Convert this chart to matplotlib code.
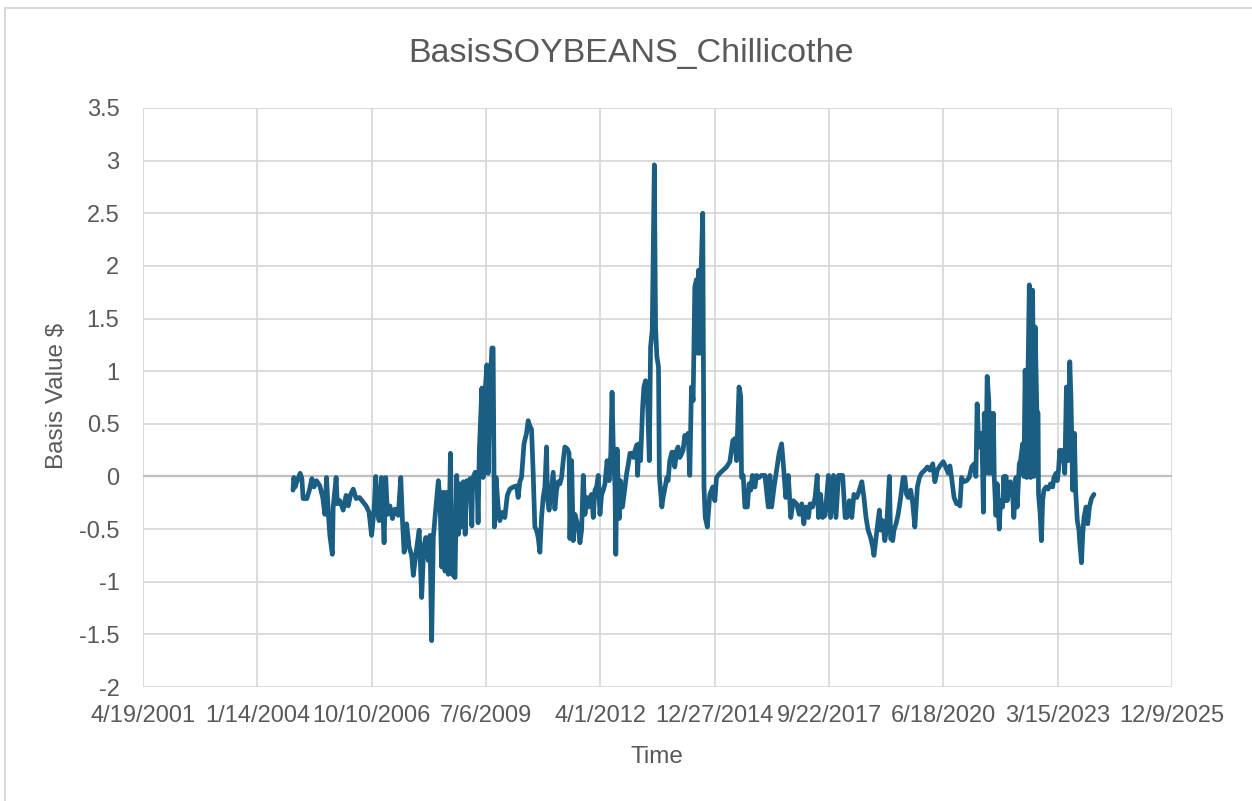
import matplotlib
matplotlib.use("Agg")

import pandas as pd

import matplotlib.pyplot as plt
from matplotlib.lines import Line2D
from matplotlib.ticker import MultipleLocator, FuncFormatter


TITLE = "BasisSOYBEANS_Chillicothe"
X_LABEL = "Time"
Y_LABEL = "Basis Value $"

TEXT_COLOR = "#595959"
GRID_COLOR = "#D9D9D9"
LINE_COLOR = "#1A5E83"

FONT = "Liberation Sans"

# observation dates as decimal years, basis in $/bu
years_2004_2009 = [
    2004.89, 2004.91, 2004.94, 2004.99, 2005.06, 2005.10, 2005.13, 2005.22, 2005.28, 2005.34,
    2005.39, 2005.45, 2005.53, 2005.60, 2005.65, 2005.69, 2005.74, 2005.77, 2005.83, 2005.85,
    2005.92, 2005.95, 2006.01, 2006.09, 2006.16, 2006.21, 2006.27, 2006.33, 2006.40, 2006.48,
    2006.56, 2006.64, 2006.71, 2006.77, 2006.83, 2006.87, 2006.92, 2006.95, 2007.01, 2007.07,
    2007.11, 2007.15, 2007.21, 2007.27, 2007.33, 2007.41, 2007.47, 2007.51, 2007.55, 2007.61,
    2007.67, 2007.73, 2007.77, 2007.83, 2007.91, 2007.97, 2008.02, 2008.07, 2008.13, 2008.17,
    2008.21, 2008.25, 2008.29, 2008.37, 2008.41, 2008.45, 2008.49, 2008.53, 2008.57, 2008.61,
    2008.66, 2008.71, 2008.77, 2008.81, 2008.85, 2008.89, 2008.93, 2008.97, 2009.01, 2009.05,
    2009.09, 2009.13, 2009.17, 2009.19, 2009.25, 2009.29, 2009.32, 2009.35, 2009.41, 2009.44,
    2009.49, 2009.53, 2009.56, 2009.60, 2009.65, 2009.68, 2009.71, 2009.75, 2009.80, 2009.84,
    2009.91, 2009.96,
]
basis_2004_2009 = [
    -0.13, -0.01, -0.10, -0.04, 0.03, -0.02, -0.21, -0.21, -0.13, -0.02,
    -0.10, -0.04, -0.09, -0.20, -0.36, -0.01, -0.39, -0.56, -0.74, -0.29,
    -0.01, -0.26, -0.23, -0.32, -0.18, -0.28, -0.17, -0.12, -0.21, -0.20,
    -0.24, -0.28, -0.34, -0.56, -0.32, 0.00, -0.36, -0.42, -0.01, -0.63,
    -0.01, -0.36, -0.28, -0.40, -0.31, -0.37, -0.01, -0.42, -0.72, -0.45,
    -0.67, -0.75, -0.94, -0.74, -0.51, -1.15, -0.67, -0.58, -0.80, -0.56,
    -1.56, -0.58, -0.39, -0.04, -0.23, -0.86, -0.15, -0.90, -0.15, -0.93,
    0.22, -0.93, -0.96, 0.01, -0.55, -0.07, -0.48, -0.05, -0.55, -0.04,
    -0.10, -0.02, -0.47, -0.02, 0.04, 0.03, -0.44, 0.25, 0.84, -0.01,
    0.82, 1.06, 0.03, 0.76, 1.22, 1.22, -0.48, -0.01, -0.29, -0.42,
    -0.34, -0.39,
]

years_2010_2016 = [
    2010.02, 2010.08, 2010.16, 2010.24, 2010.28, 2010.32, 2010.36, 2010.42, 2010.48, 2010.52,
    2010.56, 2010.60, 2010.64, 2010.68, 2010.72, 2010.76, 2010.80, 2010.84, 2010.88, 2010.92,
    2010.96, 2010.98, 2011.02, 2011.08, 2011.12, 2011.16, 2011.20, 2011.24, 2011.28, 2011.32,
    2011.36, 2011.40, 2011.46, 2011.50, 2011.52, 2011.56, 2011.60, 2011.64, 2011.68, 2011.72,
    2011.76, 2011.80, 2011.84, 2011.88, 2011.92, 2011.96, 2012.00, 2012.04, 2012.08, 2012.12,
    2012.16, 2012.20, 2012.24, 2012.28, 2012.32, 2012.36, 2012.41, 2012.46, 2012.50, 2012.53,
    2012.56, 2012.60, 2012.62, 2012.65, 2012.70, 2012.73, 2012.78, 2012.84, 2012.88, 2012.92,
    2012.96, 2013.00, 2013.04, 2013.08, 2013.12, 2013.14, 2013.17, 2013.21, 2013.26, 2013.29,
    2013.33, 2013.38, 2013.42, 2013.45, 2013.49, 2013.54, 2013.57, 2013.60, 2013.64, 2013.66,
    2013.72, 2013.75, 2013.80, 2013.84, 2013.87, 2013.91, 2013.96, 2013.99, 2014.03, 2014.08,
    2014.11, 2014.15, 2014.20, 2014.23, 2014.27, 2014.32, 2014.35, 2014.39, 2014.43, 2014.47,
    2014.51, 2014.55, 2014.58, 2014.60, 2014.63, 2014.66, 2014.70, 2014.73, 2014.76, 2014.81,
    2014.87, 2014.94, 2014.99, 2015.03, 2015.11, 2015.19, 2015.27, 2015.35, 2015.42, 2015.47,
    2015.51, 2015.57, 2015.61, 2015.63, 2015.67, 2015.71, 2015.77, 2015.81, 2015.85, 2015.89,
    2015.95, 2015.99, 2016.05, 2016.11, 2016.19, 2016.27, 2016.31, 2016.35, 2016.41, 2016.48,
    2016.53, 2016.59, 2016.63, 2016.69, 2016.75, 2016.81, 2016.87, 2016.95,
]
basis_2010_2016 = [
    -0.18, -0.12, -0.10, -0.09, -0.20, -0.05, -0.01, 0.31, 0.41, 0.53,
    0.48, 0.45, 0.03, -0.48, -0.51, -0.58, -0.72, -0.39, -0.20, -0.10,
    0.28, -0.20, -0.32, -0.10, 0.04, -0.31, -0.13, -0.05, -0.07, -0.01,
    0.15, 0.28, 0.26, 0.22, -0.59, 0.15, -0.61, -0.36, -0.42, -0.48,
    -0.63, -0.51, 0.01, -0.36, -0.20, -0.29, -0.20, -0.17, -0.39, -0.13,
    -0.10, 0.01, -0.36, -0.17, -0.13, -0.07, 0.15, -0.04, 0.22, 0.80,
    0.25, -0.10, -0.74, 0.26, -0.40, -0.04, -0.29, -0.10, 0.03, 0.12,
    0.22, 0.22, 0.18, 0.25, 0.30, 0.01, 0.31, 0.15, 0.66, 0.85,
    0.91, 0.69, 0.15, 1.23, 1.39, 2.96, 1.42, 1.14, 1.04, 0.01,
    -0.29, -0.20, -0.10, -0.01, -0.04, 0.15, 0.23, 0.23, 0.09, 0.25,
    0.28, 0.18, 0.22, 0.25, 0.39, 0.34, 0.41, 0.01, 0.85, 0.72,
    1.80, 1.87, 1.17, 1.96, 1.17, 1.93, 2.50, -0.10, -0.39, -0.48,
    -0.17, -0.10, -0.23, -0.01, 0.03, 0.06, 0.09, 0.14, 0.34, 0.36,
    0.15, 0.85, 0.76, -0.01, 0.01, -0.29, -0.29, -0.07, -0.13, 0.01,
    -0.10, 0.01, -0.01, 0.01, 0.01, -0.29, 0.01, -0.29, -0.10, 0.09,
    0.22, 0.31, 0.12, -0.20, 0.01, -0.39, -0.23, -0.26,
]

years_2017_2024 = [
    2017.01, 2017.07, 2017.12, 2017.17, 2017.23, 2017.27, 2017.33, 2017.39, 2017.44, 2017.47,
    2017.52, 2017.57, 2017.63, 2017.71, 2017.76, 2017.83, 2017.89, 2017.95, 2018.05, 2018.11,
    2018.15, 2018.21, 2018.27, 2018.32, 2018.39, 2018.45, 2018.51, 2018.56, 2018.61, 2018.66,
    2018.72, 2018.77, 2018.80, 2018.85, 2018.88, 2018.93, 2018.96, 2019.01, 2019.06, 2019.10,
    2019.17, 2019.20, 2019.25, 2019.28, 2019.33, 2019.38, 2019.44, 2019.50, 2019.54, 2019.58,
    2019.62, 2019.68, 2019.73, 2019.78, 2019.84, 2019.89, 2019.94, 2020.02, 2020.08, 2020.14,
    2020.21, 2020.26, 2020.32, 2020.38, 2020.42, 2020.46, 2020.52, 2020.58, 2020.62, 2020.66,
    2020.72, 2020.78, 2020.84, 2020.86, 2020.90, 2020.95, 2021.02, 2021.08, 2021.14, 2021.20,
    2021.24, 2021.27, 2021.31, 2021.36, 2021.39, 2021.42, 2021.44, 2021.48, 2021.51, 2021.55,
    2021.56, 2021.59, 2021.63, 2021.66, 2021.68, 2021.72, 2021.75, 2021.80, 2021.83, 2021.88,
    2021.91, 2021.94, 2021.96, 2021.99, 2022.04, 2022.07, 2022.12, 2022.15, 2022.20, 2022.23,
    2022.28, 2022.31, 2022.36, 2022.39, 2022.42, 2022.46, 2022.49, 2022.52, 2022.55, 2022.58,
    2022.60, 2022.63, 2022.66, 2022.70, 2022.73, 2022.74, 2022.78, 2022.81, 2022.84, 2022.87,
    2022.92, 2022.97, 2023.03, 2023.08, 2023.11, 2023.16, 2023.19, 2023.22, 2023.25, 2023.29,
    2023.33, 2023.37, 2023.41, 2023.45, 2023.49, 2023.52, 2023.56, 2023.60, 2023.63, 2023.67,
    2023.71, 2023.73, 2023.77, 2023.80, 2023.83, 2023.88, 2023.92, 2023.96, 2024.01, 2024.07,
]
basis_2017_2024 = [
    -0.36, -0.26, -0.45, -0.29, -0.39, -0.26, -0.29, -0.20, 0.01, -0.39,
    -0.17, -0.39, -0.37, 0.01, -0.39, 0.01, -0.39, 0.01, 0.01, -0.39,
    -0.39, -0.23, -0.39, -0.17, -0.20, -0.13, -0.05, -0.20, -0.39, -0.51,
    -0.58, -0.67, -0.75, -0.58, -0.48, -0.32, -0.51, -0.42, -0.61, -0.51,
    0.00, -0.59, -0.61, -0.51, -0.45, -0.36, -0.20, -0.01, -0.01, -0.17,
    -0.20, -0.13, -0.26, -0.48, -0.10, -0.01, 0.03, 0.06, 0.09, 0.06,
    0.12, -0.05, 0.06, 0.10, 0.12, 0.14, 0.09, 0.03, 0.10, -0.01,
    -0.20, -0.26, -0.26, -0.28, -0.01, -0.05, -0.04, -0.01, 0.09, 0.12,
    0.00, 0.69, 0.28, 0.41, 0.28, -0.34, 0.60, 0.03, 0.95, 0.72,
    0.03, 0.60, 0.03, 0.60, -0.01, -0.37, -0.07, -0.50, -0.23, -0.29,
    0.00, -0.23, 0.00, -0.23, -0.13, -0.05, -0.17, -0.39, -0.01, -0.29,
    0.12, 0.15, 0.31, 0.00, 1.01, -0.01, 1.01, 1.82, -0.01, 1.42,
    1.77, 0.00, 1.42, 0.63, 0.60, -0.16, -0.36, -0.61, -0.23, -0.13,
    -0.10, -0.12, -0.07, -0.10, -0.01, 0.03, -0.04, 0.06, 0.25, 0.15,
    0.25, 0.03, 0.85, 0.15, 1.09, 0.72, -0.13, 0.41, -0.13, -0.42,
    -0.51, -0.63, -0.82, -0.55, -0.39, -0.29, -0.45, -0.29, -0.21, -0.17,
]

X_START = "2001-04-19"
X_TICK_DAYS = 1000
X_TICK_COUNT = 10


def to_dates(years):

    dates = []

    for y in years:

        whole = int(y)

        dates.append(pd.Timestamp(whole, 1, 1) + pd.Timedelta(days=(y - whole) * 365.25))

    return dates


def main():

    plt.rcParams["font.family"] = [FONT, "DejaVu Sans"]

    dates = to_dates(years_2004_2009 + years_2010_2016 + years_2017_2024)
    basis = basis_2004_2009 + basis_2010_2016 + basis_2017_2024

    W, H = 1252, 801

    fig = plt.figure(figsize=(W / 100, H / 100), dpi=100)

    ax = fig.add_axes([143 / W, 1 - 687 / H, (1172 - 143) / W, (687 - 108) / H])

    ticks = pd.date_range(X_START, periods=X_TICK_COUNT, freq=f"{X_TICK_DAYS}D")

    ax.set_xlim(ticks[0], ticks[-1])
    ax.set_ylim(-2, 3.5)

    ax.set_xticks(ticks)
    ax.set_xticklabels([f"{d.month}/{d.day}/{d.year}" for d in ticks])

    ax.yaxis.set_major_locator(MultipleLocator(0.5))
    ax.yaxis.set_major_formatter(FuncFormatter(lambda v, _: f"{v:g}"))

    ax.grid(True, color=GRID_COLOR, linewidth=1.3)
    ax.set_axisbelow(True)

    for side in ax.spines:
        ax.spines[side].set_visible(False)

    # horizontal axis line sits at zero
    ax.axhline(0, color="#BFBFBF", linewidth=1.6, zorder=1)

    ax.tick_params(axis="both", length=0, labelsize=17, labelcolor=TEXT_COLOR)
    ax.tick_params(axis="x", pad=13)
    ax.tick_params(axis="y", pad=17)

    ax.plot(
        dates,
        basis,
        color=LINE_COLOR,
        linewidth=3.4,
        solid_joinstyle="round",
        solid_capstyle="round",
        zorder=3
    )

    fig.text(0.504, 1 - 62 / H, TITLE, ha="center", va="baseline",
             fontsize=24.5, color=TEXT_COLOR)

    fig.text(657 / W, 1 - 763 / H, X_LABEL, ha="center", va="baseline",
             fontsize=17.5, color=TEXT_COLOR)

    fig.text(57 / W, 1 - 396 / H, Y_LABEL, ha="center", va="center",
             rotation=90, fontsize=17.5, color=TEXT_COLOR)

    # chart area border
    fig.add_artist(Line2D([5 / W, 5 / W], [0, 1 - 8 / H], color=GRID_COLOR,
                          linewidth=1.5, transform=fig.transFigure))
    fig.add_artist(Line2D([5 / W, 1], [1 - 8 / H, 1 - 8 / H], color=GRID_COLOR,
                          linewidth=1.5, transform=fig.transFigure))

    fig.savefig("out.png", dpi=100)

    plt.close(fig)


if __name__ == "__main__":

    main()
